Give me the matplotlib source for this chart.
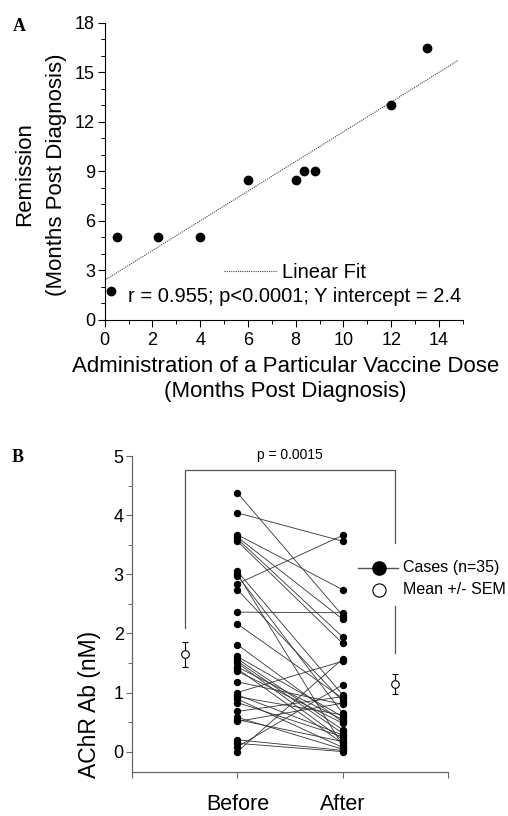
import numpy as np
import matplotlib
matplotlib.use("Agg")
import matplotlib.pyplot as plt
from matplotlib.ticker import MultipleLocator

plt.rcParams['font.family'] = ['Liberation Sans', 'DejaVu Sans']

# --- panel A: vaccine dose timing vs remission ---
dose_months = [0.25, 0.5, 2.25, 4.0, 6.0, 8.0, 8.35, 8.8, 12.0, 13.5]
remission_months = [1.75, 5.0, 5.0, 5.0, 8.5, 8.5, 9.0, 9.0, 13.0, 16.5]
fit_intercept = 2.4
fit_slope = 0.9
fit_xmax = 14.8

# --- panel B: AChR antibody before / after (35 cases) ---
ab_before = [4.38, 4.04, 3.67, 3.63, 3.60, 3.56, 3.05, 3.01, 2.98, 2.84,
             2.74, 2.36, 2.16, 1.81, 1.61, 1.57, 1.53, 1.50, 1.43, 1.40,
             1.36, 1.18, 1.00, 0.96, 0.93, 0.89, 0.83, 0.68, 0.58, 0.54,
             0.51, 0.20, 0.14, 0.08, 0.00]
ab_after = [2.30, 3.56, 2.74, 2.24, 1.94, 1.83, 0.96, 0.10, 0.65, 3.66,
            0.85, 2.35, 0.90, 0.50, 0.59, 0.37, 0.31, 0.20, 0.54, 0.14,
            0.48, 0.80, 1.53, 0.28, 0.62, 0.07, 0.25, 0.93, 0.04, 0.17,
            0.82, 0.02, 0.00, 1.13, 1.57]
mean_before, sem_before = 1.65, 0.21
mean_after, sem_after = 1.14, 0.17
p_text = "p = 0.0015"

fig = plt.figure(figsize=(5.08, 8.16), dpi=100)

# ---------------- A ----------------
axA = fig.add_axes([0.206, 0.608, 0.705, 0.364])
xs = np.array([0, fit_xmax])
axA.plot(xs, fit_intercept + fit_slope * xs, color='#444444', lw=0.8, ls=(0, (1, 1)))
axA.plot(dose_months, remission_months, 'o', color='black', ms=6, clip_on=False)

axA.set_xlim(0, 15)
axA.set_ylim(0, 18)
axA.xaxis.set_major_locator(MultipleLocator(2))
axA.xaxis.set_minor_locator(MultipleLocator(1))
axA.yaxis.set_major_locator(MultipleLocator(3))
axA.yaxis.set_minor_locator(MultipleLocator(1))
for s in ['top', 'right']:
    axA.spines[s].set_visible(False)
axA.tick_params(which='major', direction='out', length=5, width=0.8, labelsize=13)
axA.tick_params(which='minor', direction='out', length=3, width=0.7)
axA.tick_params(axis='y', pad=2)
axA.tick_params(axis='x', pad=4)

axA.set_xlabel("Administration of a Particular Vaccine Dose\n(Months Post Diagnosis)",
               fontsize=16, linespacing=1.3, va='top')
axA.xaxis.set_label_coords(0.504, -0.12)
axA.set_ylabel("Remission\n(Months Post Diagnosis)", fontsize=16, linespacing=1.7)
axA.yaxis.set_label_coords(-0.105, 0.49)

axA.plot([5.0, 7.2], [2.98, 2.98], color='#444444', lw=0.8, ls=(0, (1, 1)))
axA.text(7.43, 2.52, "Linear Fit", fontsize=14.5, va='baseline')
axA.text(0.99, 1.11, "r = 0.955; p<0.0001; Y intercept = 2.4", fontsize=14.5, va='baseline')

fig.text(0.026, 0.962, "A", fontsize=13, fontweight='bold', family='Liberation Serif', va='baseline')

# ---------------- B ----------------
axB = fig.add_axes([0.260, 0.0543, 0.622, 0.3867])
for b, a in zip(ab_before, ab_after):
    axB.plot([1, 2], [b, a], color='#333333', lw=0.6)
axB.plot([1] * len(ab_before), ab_before, 'o', color='black', ms=4.3, clip_on=False)
axB.plot([2] * len(ab_after), ab_after, 'o', color='black', ms=4.3, clip_on=False)

axB.errorbar([0.5], [mean_before], yerr=[sem_before], fmt='o', mfc='white', mec='black',
             mew=0.8, ms=5.5, ecolor='black', elinewidth=0.8, capsize=2.5, capthick=0.8)
axB.errorbar([2.5], [mean_after], yerr=[sem_after], fmt='o', mfc='white', mec='black',
             mew=0.8, ms=5.5, ecolor='black', elinewidth=0.8, capsize=2.5, capthick=0.8)

# significance bracket (broken around the legend)
axB.plot([0.5, 0.5, 2.5, 2.5], [2.09, 4.76, 4.76, 3.53], color='#555555', lw=0.9, clip_on=False)
axB.plot([2.5, 2.5], [2.46, 1.67], color='#555555', lw=0.9, clip_on=False)
axB.text(1.5, 4.96, p_text, fontsize=10, ha='center', va='baseline')

# legend
axB.plot([2.146, 2.526], [3.11, 3.11], color='#555555', lw=1, clip_on=False)
axB.plot([2.346], [3.11], 'o', color='black', ms=9.5, clip_on=False)
axB.plot([2.346], [2.74], 'o', mfc='white', mec='black', mew=0.8, ms=9.5, clip_on=False)
axB.text(2.571, 3.11, "Cases (n=35)", fontsize=11.5, va='center')
axB.text(2.571, 2.74, "Mean +/- SEM", fontsize=11.5, va='center')

axB.set_xlim(0, 3)
axB.set_ylim(-0.34, 5)
axB.set_xticks([0, 1, 2, 3])
axB.set_xticklabels(['', 'Before', 'After', ''])
axB.yaxis.set_major_locator(MultipleLocator(1))
axB.yaxis.set_minor_locator(MultipleLocator(0.5))
for s in ['top', 'right']:
    axB.spines[s].set_visible(False)
for s in ['left', 'bottom']:
    axB.spines[s].set_color('#666666')
    axB.spines[s].set_linewidth(0.9)
axB.tick_params(which='major', direction='out', length=4, width=0.8, color='#666666')
axB.tick_params(which='minor', direction='out', length=3, width=0.7, color='#666666')
axB.tick_params(axis='y', pad=2, labelsize=13)
axB.tick_params(axis='x', pad=12, labelsize=15.5)

axB.set_ylabel("AChR Ab (nM)", fontsize=16.5)
axB.yaxis.set_label_coords(-0.098, 0.214)

fig.text(0.023, 0.434, "B", fontsize=13, fontweight='bold', family='Liberation Serif', va='baseline')

fig.savefig("out.png", dpi=100)
